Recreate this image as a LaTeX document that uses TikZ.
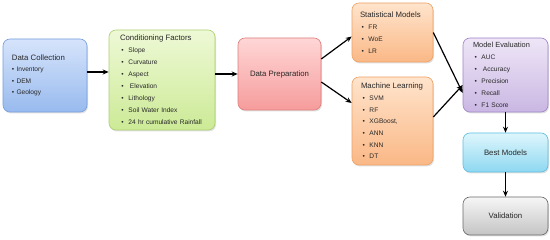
\documentclass[tikz,border=0pt]{standalone}
\usepackage{fontspec}
\setmainfont{Liberation Sans}
\usepackage{tikz}
\usetikzlibrary{positioning, arrows.meta, calc, shadows}
\usepackage{xcolor}

\definecolor{txtgray}{RGB}{40,40,40}
\definecolor{blueTop}{RGB}{214,228,251}
\definecolor{blueBot}{RGB}{152,186,238}
\definecolor{blueLine}{RGB}{118,158,220}
\definecolor{greenTop}{RGB}{238,249,214}
\definecolor{greenBot}{RGB}{204,234,150}
\definecolor{greenLine}{RGB}{172,208,112}
\definecolor{pinkTop}{RGB}{255,214,214}
\definecolor{pinkBot}{RGB}{246,156,156}
\definecolor{pinkLine}{RGB}{222,124,124}
\definecolor{orangeTop}{RGB}{255,228,204}
\definecolor{orangeBot}{RGB}{250,184,134}
\definecolor{orangeLine}{RGB}{236,162,102}
\definecolor{violetTop}{RGB}{238,230,247}
\definecolor{violetBot}{RGB}{202,183,227}
\definecolor{violetLine}{RGB}{160,132,200}
\definecolor{cyanTop}{RGB}{222,246,252}
\definecolor{cyanBot}{RGB}{142,216,241}
\definecolor{cyanLine}{RGB}{92,190,225}
\definecolor{grayTop}{RGB}{246,246,246}
\definecolor{grayBot}{RGB}{196,196,196}
\definecolor{grayLine}{RGB}{105,105,105}

\newcommand{\bul}[1]{\hspace*{1.5pt}\makebox[7pt][l]{\textbullet}#1}

\begin{document}
\begin{tikzpicture}[
        x=1pt, y=-1pt,
        box/.style={rectangle, rounded corners=7pt, line width=0.6pt,
          text=txtgray, inner ysep=0pt,
          drop shadow={opacity=0.25, shadow xshift=1pt, shadow yshift=-1.5pt}},
        listbox/.style={box, align=left, font=\fontsize{6.6}{12}\selectfont},
        plainbox/.style={box, align=center, font=\fontsize{7.8}{9}\selectfont},
        arr/.style={-{Stealth[length=6pt, width=5pt]}, line width=1.2pt, black}
      ]
      \useasboundingbox (0,0) rectangle (550,240);

      \node[listbox, draw=blueLine, top color=blueTop, bottom color=blueBot,
            text width=66pt, inner xsep=9pt, minimum height=73pt] (colln) at (45,75.5)
        {{\fontsize{7.8}{12}\selectfont Data Collection}\\[-0.5pt]
         \textbullet\ Inventory\\[-0.5pt] \textbullet\ DEM\\[-0.5pt] \textbullet\ Geology};

      \node[listbox, draw=greenLine, top color=greenTop, bottom color=greenBot,
            text width=84pt, inner xsep=11pt, minimum height=100pt] (cond) at (162,80)
        {{\fontsize{7.8}{12}\selectfont Conditioning Factors}\\
         \bul{Slope}\\ \bul{Curvature}\\ \bul{Aspect}\\ \bul{\hspace{1.5pt}Elevation}\\
         \bul{Lithology}\\ \bul{Soil Water Index}\\ \bul{24 hr cumulative Rainfall}};

      \node[plainbox, draw=pinkLine, top color=pinkTop, bottom color=pinkBot,
            minimum width=83pt, minimum height=72pt] (prep) at (279.5,74) {Data Preparation};

      \node[listbox, draw=orangeLine, top color=orangeTop, bottom color=orangeBot,
            text width=65pt, inner xsep=8pt, minimum height=59pt] (stat) at (392.5,32.5)
        {{\fontsize{7.8}{12}\selectfont Statistical Models}\\
         \bul{FR}\\ \bul{WoE}\\ \bul{LR}};

      \node[listbox, draw=orangeLine, top color=orangeTop, bottom color=orangeBot,
            text width=63pt, inner xsep=9pt, minimum height=88pt] (ml) at (392.5,121)
        {{\fontsize{7.8}{12}\selectfont Machine Learning}\\[-0.3pt]
         \bul{SVM}\\[-0.3pt] \bul{RF}\\[-0.3pt] \bul{XGBoost,}\\[-0.3pt] \bul{ANN}\\[-0.3pt]
         \bul{KNN}\\[-0.3pt] \bul{DT}};

      \node[listbox, draw=violetLine, top color=violetTop, bottom color=violetBot,
            text width=65pt, inner xsep=10pt, minimum height=74pt] (eval) at (505.5,75)
        {{\fontsize{7.4}{12}\selectfont Model Evaluation}\\
         \bul{AUC}\\ \bul{\hspace{1.5pt}Accuracy}\\ \bul{Precision}\\ \bul{Recall}\\
         \bul{F1 Score}};

      \node[plainbox, draw=cyanLine, top color=cyanTop, bottom color=cyanBot,
            minimum width=85pt, minimum height=39pt] (best) at (505.5,152.5) {Best Models};

      \node[plainbox, draw=grayLine, top color=grayTop, bottom color=grayBot,
            minimum width=85pt, minimum height=38pt] (valid) at (505.5,216) {Validation};

      % connectors
      \draw[arr] ([yshift=3.5pt]colln.east) -- ([yshift=3.5pt]colln.east -| cond.west);
      \draw[arr] (cond.east |- prep.west) -- (prep.west);
      \draw[arr] ([yshift=15pt]prep.east) -- ([yshift=-4pt]stat.west);
      \draw[arr] ([yshift=-8pt]prep.east) -- ([yshift=18pt]ml.west);
      \draw[arr] (stat.east) -- ([yshift=-18pt]eval.west);
      \draw[arr] ([yshift=4pt]ml.east) -- ([yshift=-10pt]eval.west);
      \draw[arr] (eval.south) -- (best.north);
      \draw[arr] (best.south) -- (valid.north);
    \end{tikzpicture}
\end{document}
